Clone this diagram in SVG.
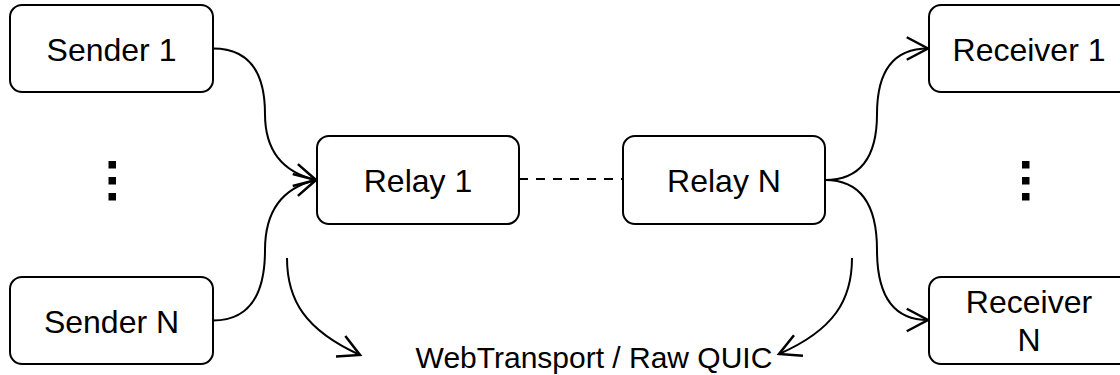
<svg xmlns="http://www.w3.org/2000/svg" width="1120" height="375" viewBox="0 0 1120 375">
<defs>
<style>
.box{fill:#fff;stroke:#000;stroke-width:2}
.t{font-family:"Liberation Sans",Arial,sans-serif;font-size:32px;fill:#000;text-anchor:middle}
.e{fill:none;stroke:#000;stroke-width:2}
.dot{fill:#000}
</style>
<marker id="arr" markerUnits="userSpaceOnUse" markerWidth="30" markerHeight="30" viewBox="-20 -12 24 24" refX="0" refY="0" orient="auto" overflow="visible">
<path d="M -17,-9 L 0,0 L -17,9" fill="none" stroke="#000" stroke-width="2"/>
</marker>
</defs>
<rect width="1120" height="375" fill="#fff"/>
<g id="connectors">
<path class="e" d="M 213 48.5 Q 265 48.5 265 114 Q 265 168 316 180" marker-end="url(#arr)"/>
<path class="e" d="M 213 320.5 Q 265 320.5 265 250 Q 265 192 316 180" marker-end="url(#arr)"/>
<path class="e" d="M 519 179 L 623 179" stroke-dasharray="9 8"/>
<path class="e" d="M 825 180 Q 877 180 877 114 Q 877 48.5 928 48.5" marker-end="url(#arr)"/>
<path class="e" d="M 825 180 Q 877 180 877 250 Q 877 320 928 320" marker-end="url(#arr)"/>
<path class="e" d="M 287 258 C 287 300 305 330 360 355" marker-end="url(#arr)"/>
<path class="e" d="M 852 258 C 852 300 834 330 779 354" marker-end="url(#arr)"/>
</g>
<g id="sender1"><rect class="box" x="10" y="5" width="203" height="87" rx="12"/><text class="t" x="111.5" y="60.5">Sender 1</text></g>
<g id="senderN"><rect class="box" x="10" y="277" width="203" height="87" rx="12"/><text class="t" x="111.5" y="332.5">Sender N</text></g>
<g id="senderDots"><rect class="dot" x="108.5" y="161" width="7.5" height="7.5"/><rect class="dot" x="108.5" y="177" width="7.5" height="7.5"/><rect class="dot" x="108.5" y="193" width="7.5" height="7.5"/></g>
<g id="relay1"><rect class="box" x="317" y="136" width="202" height="88" rx="12"/><text class="t" x="418" y="192">Relay 1</text></g>
<g id="relayN"><rect class="box" x="623" y="136" width="202" height="88" rx="12"/><text class="t" x="724" y="192">Relay N</text></g>
<g id="receiver1"><rect class="box" x="929" y="5" width="202" height="87" rx="12"/><text class="t" x="1029" y="60.5">Receiver 1</text></g>
<g id="receiverN"><rect class="box" x="929" y="277" width="202" height="87" rx="12"/><text class="t" x="1029" y="312.5">Receiver</text><text class="t" x="1029" y="351">N</text></g>
<g id="receiverDots"><rect class="dot" x="1022" y="161" width="7.5" height="7.5"/><rect class="dot" x="1022" y="177" width="7.5" height="7.5"/><rect class="dot" x="1022" y="193" width="7.5" height="7.5"/></g>
<g id="label"><text class="t" x="594" y="368" style="font-size:30px">WebTransport / Raw QUIC</text></g>
</svg>
